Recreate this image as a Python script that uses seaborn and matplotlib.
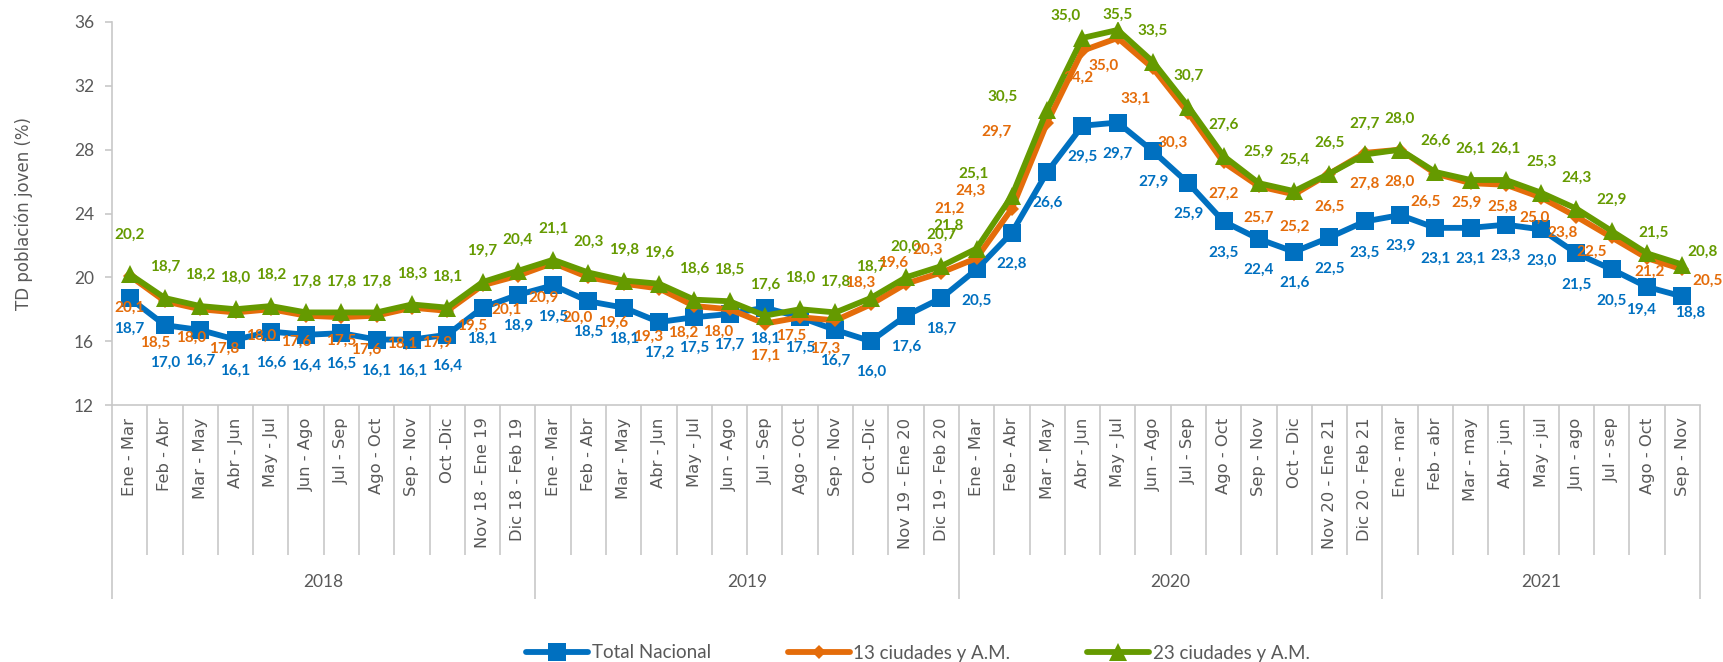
import matplotlib
matplotlib.use("Agg")
import matplotlib.pyplot as plt
import seaborn as sns
import pandas as pd
import numpy as np

# ---------------- data ----------------
years = ["2018", "2019", "2020", "2021"]
periods_2018 = ["Ene - Mar", "Feb - Abr", "Mar - May", "Abr - Jun", "May - Jul", "Jun - Ago",
                "Jul - Sep", "Ago - Oct", "Sep - Nov", "Oct -Dic", "Nov 18 - Ene 19", "Dic 18 - Feb 19"]
periods_2019 = ["Ene - Mar", "Feb - Abr", "Mar - May", "Abr - Jun", "May - Jul", "Jun - Ago",
                "Jul - Sep", "Ago - Oct", "Sep - Nov", "Oct -Dic", "Nov 19 - Ene 20", "Dic 19 - Feb 20"]
periods_2020 = ["Ene - Mar", "Feb - Abr", "Mar - May", "Abr - Jun", "May - Jul", "Jun - Ago",
                "Jul - Sep", "Ago - Oct", "Sep - Nov", "Oct - Dic", "Nov 20 - Ene 21", "Dic 20 - Feb 21"]
periods_2021 = ["Ene - mar", "Feb - abr", "Mar - may", "Abr - jun", "May - jul", "Jun - ago",
                "Jul - sep", "Ago - Oct", "Sep - Nov"]

total_nacional = [18.7, 17.0, 16.7, 16.1, 16.6, 16.4, 16.5, 16.1, 16.1, 16.4, 18.1, 18.9,
                  19.5, 18.5, 18.1, 17.2, 17.5, 17.7, 18.1, 17.5, 16.7, 16.0, 17.6, 18.7,
                  20.5, 22.8, 26.6, 29.5, 29.7, 27.9, 25.9, 23.5, 22.4, 21.6, 22.5, 23.5,
                  23.9, 23.1, 23.1, 23.3, 23.0, 21.5, 20.5, 19.4, 18.8]
ciudades_13 = [20.1, 18.5, 18.0, 17.8, 18.0, 17.6, 17.5, 17.6, 18.1, 17.9, 19.5, 20.1,
               20.9, 20.0, 19.6, 19.3, 18.2, 18.0, 17.1, 17.5, 17.3, 18.3, 19.6, 20.3,
               21.2, 24.3, 29.7, 34.2, 35.0, 33.1, 30.3, 27.2, 25.7, 25.2, 26.5, 27.8,
               28.0, 26.5, 25.9, 25.8, 25.0, 23.8, 22.5, 21.2, 20.5]
ciudades_23 = [20.2, 18.7, 18.2, 18.0, 18.2, 17.8, 17.8, 17.8, 18.3, 18.1, 19.7, 20.4,
               21.1, 20.3, 19.8, 19.6, 18.6, 18.5, 17.6, 18.0, 17.8, 18.7, 20.0, 20.7,
               21.8, 25.1, 30.5, 35.0, 35.5, 33.5, 30.7, 27.6, 25.9, 25.4, 26.5, 27.7,
               28.0, 26.6, 26.1, 26.1, 25.3, 24.3, 22.9, 21.5, 20.8]
series_names = ["Total Nacional", "13 ciudades y A.M.", "23 ciudades y A.M."]

# ---------------- styles / label placement (pixels; +dy = below) ----------------
BLUE, ORANGE, GREEN = "#0070C0", "#E46C0A", "#659A00"
GRAY_TXT, GRAY_LINE = "#595959", "#C8C8C8"

orange_offsets = [(0, 32), (-10, 42), (-9, 29), (-11, 36), (-10, 27), (-10, 26), (0, 24), (-10, 34),
                  (-10, 36), (-10, 32), (-10, 40), (-11, 34), (-10, 35), (-11, 40), (-11, 39),
                  (-11, 48), (-11, 27), (-11, 23), (0, 32), (-9, 19), (-10, 28), (-11, -22),
                  (-13, -21), (-14, -23), (-27, -49), (-41, -18), (-51, 9), (-4, 27), (-14, 28),
                  (-17, 31), (-16, 30), (0, 31), (0, 31), (0, 32), (0, 33), (0, 31), (0, 32),
                  (-10, 28), (-4, 20), (-3, 22), (-7, 20), (-14, 16), (-20, 14), (3, 14), (25, 11)]
green_over = {0: (0, -39), 24: (-28, -23), 25: (-38, -22), 26: (-45, -13), 27: (-17, -22),
              28: (0, -15), 43: (6, -21), 44: (20, -13)}
blue_over = {1: (0, 38), 43: (-6, 23), 44: (8, 16)}

sns.set_theme(style="white")
plt.rcParams["font.family"] = ["Lato", "DejaVu Sans"]

labels_all = periods_2018 + periods_2019 + periods_2020 + periods_2021
groups = [periods_2018, periods_2019, periods_2020, periods_2021]
n = len(labels_all)
xs = np.arange(n)

df = pd.DataFrame({"x": xs, "tn": total_nacional, "c13": ciudades_13, "c23": ciudades_23})

fig = plt.figure(figsize=(17.23, 6.62), dpi=100)
ax = fig.add_axes([112 / 1723, 1 - 405 / 662, (1700 - 112) / 1723, 383 / 662])

sns.lineplot(data=df, x="x", y="tn", ax=ax, color=BLUE, linewidth=4.2, marker="s",
             markersize=12.5, markeredgewidth=0, label=series_names[0], zorder=3)
sns.lineplot(data=df, x="x", y="c13", ax=ax, color=ORANGE, linewidth=4.2, marker="D",
             markersize=7.5, markeredgewidth=0, label=series_names[1], zorder=4)
sns.lineplot(data=df, x="x", y="c23", ax=ax, color=GREEN, linewidth=4.2, marker="^",
             markersize=13, markeredgewidth=0, label=series_names[2], zorder=5)

handles, labs = ax.get_legend_handles_labels()
ax.get_legend().remove()

ax.set_xlim(-0.5, n - 0.5)
ax.set_ylim(12, 36)
ax.set_yticks(np.arange(12, 37, 4))
ax.set_xlabel("")
ax.set_ylabel("TD población joven (%)", fontsize=12, color=GRAY_TXT, family="DejaVu Sans")
ax.yaxis.set_label_coords(-0.0495, 0.5)

for s in ["top", "right"]:
    ax.spines[s].set_visible(False)
for s in ["left", "bottom"]:
    ax.spines[s].set_color(GRAY_LINE)
    ax.spines[s].set_linewidth(1.2)

ax.tick_params(axis="y", which="major", left=True, length=5, width=1.2, color=GRAY_LINE,
               labelsize=12.5, labelcolor=GRAY_TXT, pad=8)
ax.set_xticks(xs)
ax.set_xticklabels(labels_all, rotation=90, fontsize=11.8, color=GRAY_TXT, family="DejaVu Sans")
ax.tick_params(axis="x", length=0, pad=9)

# category separators and year separators (multi-level axis)
trans = ax.get_xaxis_transform()
bounds = np.arange(-0.5, n, 1.0)
year_bounds = [-0.5]
acc = -0.5
for g in groups:
    acc += len(g)
    year_bounds.append(acc)
cat_lines = [b for b in bounds if b not in year_bounds]
ax.vlines(cat_lines, -0.3916, 0, transform=trans, colors=GRAY_LINE, linewidth=1.2, clip_on=False)
ax.vlines(year_bounds, -0.5065, 0, transform=trans, colors=GRAY_LINE, linewidth=1.2, clip_on=False)
for yr, a, b in zip(years, year_bounds[:-1], year_bounds[1:]):
    ax.text((a + b) / 2, -0.462, yr, transform=trans, ha="center", va="center",
            fontsize=12.5, color=GRAY_TXT)

# data labels
def fmt(v):
    return f"{v:.1f}".replace(".", ",")

PX = 0.72
for i in range(n):
    dx, dy = blue_over.get(i, (0, 31))
    ax.annotate(fmt(total_nacional[i]), (xs[i], total_nacional[i]), xytext=(dx * PX, -dy * PX),
                textcoords="offset points", ha="center", va="center", color=BLUE,
                fontsize=11, fontweight="bold", zorder=6)
    dx, dy = orange_offsets[i]
    ax.annotate(fmt(ciudades_13[i]), (xs[i], ciudades_13[i]), xytext=(dx * PX, -dy * PX),
                textcoords="offset points", ha="center", va="center", color=ORANGE,
                fontsize=11, fontweight="bold", zorder=6)
    dx, dy = green_over.get(i, (0, -31))
    ax.annotate(fmt(ciudades_23[i]), (xs[i], ciudades_23[i]), xytext=(dx * PX, -dy * PX),
                textcoords="offset points", ha="center", va="center", color=GREEN,
                fontsize=11, fontweight="bold", zorder=6)

fig.legend(handles, labs, loc="center", bbox_to_anchor=(918 / 1723, 1 - 653 / 662), ncol=3,
           frameon=False, prop={"family": "Lato", "size": 13.5}, handlelength=3.3,
           handletextpad=0.2, columnspacing=4.1, labelcolor=GRAY_TXT)

fig.savefig("out.png", dpi=100)
